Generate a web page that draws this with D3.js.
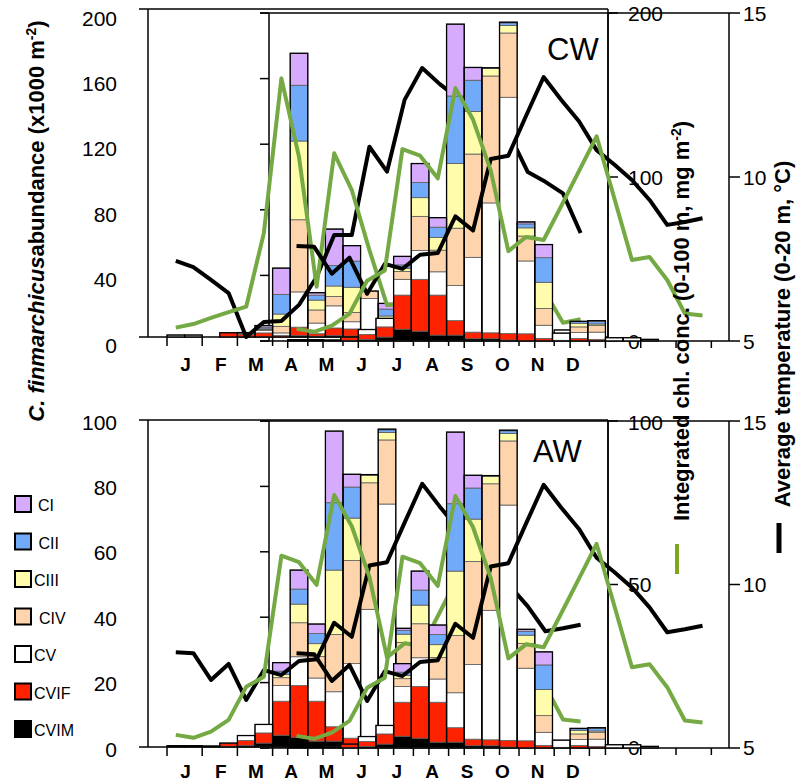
<!DOCTYPE html>
<html>
<head>
<meta charset="utf-8">
<script src="https://cdn.jsdelivr.net/npm/d3@7"></script>
<style>
  body { margin: 0; background: #fff; }
  svg { display: block; }
  text { font-family: "Liberation Sans", Arial, sans-serif; fill: #000; }
</style>
</head>
<body>
<svg id="chart" width="803" height="783"></svg>
<script>
// ---- categories -------------------------------------------------------
const months = ["J", "F", "M", "A", "M", "J", "J", "A", "S", "O", "N", "D"];
// stacking order, bottom to top
const stages = ["CVIM", "CVIF", "CV", "CIV", "CIII", "CII", "CI"];
const legendOrder = ["CI", "CII", "CIII", "CIV", "CV", "CVIF", "CVIM"];
const stageColors = {
  CI: "#d6aafc", CII: "#72aafa", CIII: "#fffdab", CIV: "#fdd4ab",
  CV: "#ffffff", CVIF: "#ff2200", CVIM: "#000000"
};

// ---- CW station: abundance per half-month slot (x1000 m-2), null = no bar
const cwCVIM = [0, 0, null, 0, 0, 0, 0, 1, 0.5, 1, 0.6, 0.5, 0.8, null, null, null, null, null, null, null, null, null, 0, null, null];
const cwCVIF = [0, 0, null, 2.6, 1.5, 2.5, 1, 5, 1.5, 4.5, 4.3, 3, 5, null, null, null, null, null, null, null, null, null, 0.2, null, null];
const cwCV   = [1.2, 1.2, null, 0, 0.3, 1.5, 1.5, 21.5, 6.5, 13.5, 4.4, 20, 3, null, null, null, null, null, null, null, null, null, 4.1, null, null];
const cwCIV  = [0, 0, null, 0, 0, 0.5, 4, 44, 8, 5.7, 5.7, 4.5, 2, null, null, null, null, null, null, null, null, null, 0, null, null];
const cwCIII = [0, 0, null, 0, 0, 0.5, 7.5, 48, 6, 6.4, 15.3, 0, 2, null, null, null, null, null, null, null, null, null, 0, null, null];
const cwCII  = [0, 0, null, 0, 0.4, 1, 12, 34, 3, 12.5, 16, 0, 4.2, null, null, null, null, null, null, null, null, null, 0, null, null];
const cwCI   = [0, 0, null, 0, 0.5, 1, 16, 19.5, 1.5, 22.2, 9.4, 0, 3.5, null, null, null, null, null, null, null, null, null, 0, null, null];
// CW temperature (0-20 m, °C) and integrated chl (mg m-2)
const cwTemp = [7.32, 7.13, 6.74, 6.34, 5.0, 5.46, 5.49, 5.98, 6.83, 8.11, 8.11, 10.8, 10.04, 12.23, 13.2, 12.71, 12.3, 12.0, 11.6, 11.13, 10.03, 9.73, 9.38, 8.17];
const cwChl  = [5.7, 7.9, 11.6, 15.2, 18.5, 63.2, 157.7, 109.8, 30.7, 112, 89.6, 53, 19.5, 20, 30, 35, 45, 40, 35, 30, 28, 27, 8.7, 10.8];

// ---- AW station -------------------------------------------------------
const awCVIM = [0.2, 0.2, 0.1, 0.2, 0.5, 1.2, 3.6, 3, 1.8, 1.8, 0.7, 0.7, 0.3, 0, 0, 0, 0, 0, 0, 0, 0.2, null, null, null, null];
const awCVIF = [0, 0, 0, 1, 1.5, 3.1, 10.4, 15.8, 12.2, 4.4, 2, 1.8, 2, 2.2, 0.8, 0.2, 0.8, 0.5, 0, 0, 0, null, null, null, null];
const awCV   = [0.2, 0.2, 0.2, 0, 1.5, 2.6, 4.8, 8.8, 7.1, 10.7, 22.8, 39.6, 72, 22.2, 4, 2.2, 1.8, 2.2, 1, 1, 0.3, null, null, null, null];
const awCIV  = [0, 0, 0, 0, 0, 0, 2.4, 10.4, 6.6, 17.5, 31.5, 38.7, 19.6, 7.6, 5.1, 0, 1.7, 2.1, 0, 0, 0, null, null, null, null];
const awCIII = [0, 0, 0, 0, 0, 0, 1, 5.7, 3.9, 19.7, 13, 2.3, 2.3, 2.5, 8, 0, 1.1, 0.4, 0, 0, 0, null, null, null, null];
const awCII  = [0, 0, 0, 0, 0, 0, 1, 4.6, 3.1, 20.6, 9.5, 0.2, 0.8, 1.2, 7.5, 0, 0.5, 0.8, 0, 0, 0, null, null, null, null];
const awCI   = [0, 0, 0, 0, 0, 0, 2.6, 5.8, 2.9, 21.9, 3.9, 0, 0.2, 0.6, 4, 0, 0.1, 0.2, 0, 0, 0, null, null, null, null];
const awTemp = [7.9, 7.87, 7.05, 7.54, 6.44, 7.35, 7.2, 7.63, 7.68, 8.8, 8.37, 10.55, 10.65, 11.86, 13.05, 12.35, 11.7, 10.82, 10.38, 9.91, 9.3, 8.54, 8.63, 8.74];
const awChl  = [3.7, 2.8, 4.7, 8.3, 18.4, 21.5, 58.5, 56.5, 49.6, 77.1, 67.5, 52, 27.4, 31.7, 30.8, 41.2, 51.8, 62.4, 43.6, 24.7, 25.6, 18.6, 8.4, 7.8];

// ---- tick labels ------------------------------------------------------
const abundTicksCW = [0, 40, 80, 120, 160, 200];
const abundTicksAW = [0, 20, 40, 60, 80, 100];
const chlTicksCW = [0, 100, 200];
const chlTicksAW = [0, 50, 100];
const tempTicks = [5, 10, 15];

const cwBars = { CVIM: cwCVIM, CVIF: cwCVIF, CV: cwCV, CIV: cwCIV, CIII: cwCIII, CII: cwCII, CI: cwCI };
const awBars = { CVIM: awCVIM, CVIF: awCVIF, CV: awCV, CIV: awCIV, CIII: awCIII, CII: awCII, CI: awCI };

const GREEN = "#74a943";
const svg = d3.select("#chart");

// half-month slot scales of the two overlaid plot layers
const slotA = d3.scaleLinear().domain([0, 25]).range([167, 607]);
const slotB = d3.scaleLinear().domain([0, 25]).range([287.7, 729]);

function drawLayer(g, L) {
  const x = L.x;
  const y = d3.scaleLinear().domain([0, L.barMax]).range(L.yRange);
  const yT = d3.scaleLinear().domain([5, 15]).range(L.yRange);
  const yC = d3.scaleLinear().domain([0, L.chlMax]).range(L.yRange);

  const table = d3.range(25).map(i => {
    const r = { slot: i };
    stages.forEach(s => { r[s] = L.bars[s][i] == null ? 0 : L.bars[s][i]; });
    r.total = d3.sum(stages, s => r[s]);
    return r;
  });
  const series = d3.stack().keys(stages)(table);

  g.append("g").selectAll("g").data(series).join("g")
    .attr("fill", d => stageColors[d.key])
    .selectAll("rect").data(d => d.filter(p => p[1] - p[0] > 0)).join("rect")
    .attr("x", p => x(p.data.slot))
    .attr("width", p => x(p.data.slot + 1) - x(p.data.slot))
    .attr("y", p => y(p[1]))
    .attr("height", p => y(p[0]) - y(p[1]))
    .attr("stroke", "#5c5c5c").attr("stroke-width", 0.8);

  g.append("g").selectAll("rect").data(table.filter(r => r.total > 0)).join("rect")
    .attr("x", r => x(r.slot))
    .attr("width", r => x(r.slot + 1) - x(r.slot))
    .attr("y", r => y(r.total))
    .attr("height", r => y(0) - y(r.total))
    .attr("fill", "none").attr("stroke", "#000").attr("stroke-width", 1.3);

  const lineOf = ys => d3.line().defined(d => d != null).x((d, i) => x(i + 0.5)).y(d => ys(d));
  g.append("path").datum(L.temp).attr("d", lineOf(yT))
    .attr("fill", "none").attr("stroke", "#000").attr("stroke-width", 4).attr("stroke-linejoin", "round");
  g.append("path").datum(L.chl).attr("d", lineOf(yC))
    .attr("fill", "none").attr("stroke", GREEN).attr("stroke-width", 4).attr("stroke-linejoin", "round");
}

function line(g, x1, y1, x2, y2, w) {
  g.append("line").attr("x1", x1).attr("y1", y1).attr("x2", x2).attr("y2", y2)
    .attr("stroke", "#000").attr("stroke-width", w || 1.5);
}

function drawFrame(g, P) {
  // layer A frame
  line(g, 139, P.aTop, 608, P.aTop);
  line(g, 139, P.aBot, 608, P.aBot);
  line(g, 148, P.aTop, 148, P.aBot);
  line(g, 608, P.aTop, 608, P.aBot);
  d3.range(13).forEach(m => line(g, slotA(2 * m), P.aBot, slotA(2 * m), P.aBot + 9));
  // layer B frame
  line(g, 260, P.bTop, 729, P.bTop);
  line(g, 260, P.bBot, 729, P.bBot);
  line(g, 269, P.bTop, 269, P.bBot);
  const yB = d3.scaleLinear().domain([0, 5]).range([P.bBot, P.bTop]);
  d3.range(6).forEach(i => line(g, 260, yB(i), 269, yB(i)));
  d3.range(13).forEach(m => line(g, slotB(2 * m), P.bBot, slotB(2 * m), P.bBot + 7));
  // right axes: chl and temperature
  line(g, 608, P.bTop, 608, P.bBot);
  line(g, 729, P.bTop, 729, P.bBot);
  [0, 0.5, 1].forEach(f => {
    const yy = P.bBot + (P.bTop - P.bBot) * f;
    line(g, 608, yy, 618, yy);
    line(g, 729, yy, 740, yy);
  });
}

function drawLabels(g, P) {
  const yl = d3.scaleLinear().domain([0, P.abundMax]).range(P.leftLabelRange);
  g.append("g").selectAll("text").data(P.abundTicks).join("text")
    .attr("x", 117).attr("y", d => yl(d)).attr("dy", "0.36em")
    .attr("text-anchor", "end").attr("font-size", 21).text(d => d);
  const yc = d3.scaleLinear().domain([0, P.chlMax]).range(P.rightLabelRange);
  g.append("g").selectAll("text").data(P.chlTicks).join("text")
    .attr("x", 628).attr("y", d => yc(d)).attr("dy", "0.36em")
    .attr("font-size", 21).text(d => d);
  const yt = d3.scaleLinear().domain([5, 15]).range(P.rightLabelRange);
  g.append("g").selectAll("text").data(tempTicks).join("text")
    .attr("x", 743).attr("y", d => yt(d)).attr("dy", "0.36em")
    .attr("font-size", 21).text(d => d);
  g.append("g").selectAll("text").data(months).join("text")
    .attr("x", (d, i) => slotA(2 * i + 1) + 1).attr("y", P.monthY)
    .attr("text-anchor", "middle").attr("font-size", 19).attr("font-weight", "bold").text(d => d);
  g.append("text").attr("x", P.nameX).attr("y", P.nameY).attr("font-size", 31).text(P.name);
}

const panels = [
  {
    name: "CW", nameX: 547, nameY: 60,
    aTop: 9, aBot: 337, bTop: 13, bBot: 341, monthY: 371,
    abundMax: 200, abundTicks: abundTicksCW, chlMax: 200, chlTicks: chlTicksCW,
    leftLabelRange: [345, 18], rightLabelRange: [341, 13],
    layerA: { bars: cwBars, temp: cwTemp, chl: cwChl, barMax: 200, chlMax: 200 },
    layerB: { bars: awBars, temp: awTemp, chl: awChl, barMax: 100, chlMax: 100 }
  },
  {
    name: "AW", nameX: 533, nameY: 462,
    aTop: 420, aBot: 747, bTop: 421, bBot: 748, monthY: 778,
    abundMax: 100, abundTicks: abundTicksAW, chlMax: 100, chlTicks: chlTicksAW,
    leftLabelRange: [749, 422], rightLabelRange: [747, 422],
    layerA: { bars: awBars, temp: awTemp, chl: awChl, barMax: 100, chlMax: 100 },
    layerB: { bars: awBars, temp: awTemp, chl: awChl, barMax: 100, chlMax: 100 }
  }
];

panels.forEach(P => {
  const g = svg.append("g");
  drawLabels(g, P);
  drawFrame(g, P);
  drawLayer(g.append("g"), Object.assign({ x: slotA, yRange: [P.aBot, P.aTop] }, P.layerA));
  drawLayer(g.append("g"), Object.assign({ x: slotB, yRange: [P.bBot, P.bTop] }, P.layerB));
});

// ---- axis titles ------------------------------------------------------
const leftTitle = svg.append("text")
  .attr("transform", "translate(44,221) rotate(-90)")
  .attr("text-anchor", "middle").attr("font-size", 22).attr("font-weight", "bold");
leftTitle.append("tspan").attr("font-style", "italic").text("C. finmarchicus");
leftTitle.append("tspan").text("abundance (x1000 m");
leftTitle.append("tspan").attr("dy", -8).attr("font-size", 14).text("-2");
leftTitle.append("tspan").attr("dy", 8).text(")");

const chlTitle = svg.append("text")
  .attr("transform", "translate(689,321) rotate(-90)")
  .attr("text-anchor", "middle").attr("font-size", 22).attr("font-weight", "bold");
chlTitle.append("tspan").text("Integrated chl. conc. (0-100 m, mg m");
chlTitle.append("tspan").attr("dy", -8).attr("font-size", 14).text("-2");
chlTitle.append("tspan").attr("dy", 8).text(")");

svg.append("text")
  .attr("transform", "translate(790,334) rotate(-90)")
  .attr("text-anchor", "middle").attr("font-size", 22).attr("font-weight", "bold")
  .text("Average temperature (0-20 m, °C)");

// line keys under the right titles
svg.append("line").attr("x1", 677).attr("x2", 677).attr("y1", 544).attr("y2", 574)
  .attr("stroke", "#7fa51f").attr("stroke-width", 4);
svg.append("line").attr("x1", 779).attr("x2", 779).attr("y1", 523).attr("y2", 553)
  .attr("stroke", "#000").attr("stroke-width", 5);

// ---- stage legend -----------------------------------------------------
const legendY = d3.scaleLinear().domain([0, 6]).range([496, 721]);
const legendTextX = [38, 38.5, 34, 39, 34, 34, 34];
const lg = svg.append("g").selectAll("g").data(legendOrder).join("g");
lg.append("rect").attr("x", 15).attr("y", (d, i) => legendY(i)).attr("width", 16).attr("height", 16)
  .attr("fill", d => stageColors[d]).attr("stroke", "#000").attr("stroke-width", 2);
lg.append("text").attr("x", (d, i) => legendTextX[i]).attr("y", (d, i) => legendY(i) + 15)
  .attr("font-size", 16).text(d => d);
</script>
</body>
</html>
